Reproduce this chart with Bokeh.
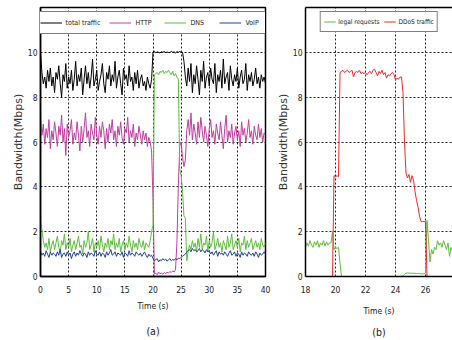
import numpy as np
from bokeh.plotting import figure
from bokeh.layouts import row
from bokeh.models import (FixedTicker, Legend, LegendItem, Title, LinearAxis, Range1d)
from bokeh.embed import file_html
from bokeh.resources import INLINE

# ---------------- data: panel (a), sampled every 0.25 s from 0 to 40 s ----------------
time_a = np.arange(161) * 0.25

total_traffic = [
    10.0, 9.1, 8.6, 8.9, 8.4, 9.2, 8.7, 9.3, 8.5, 8.9,
    8.2, 9.1, 8.8, 9.4, 8.6, 8.0, 9.0, 8.7, 9.5, 8.4,
    8.9, 8.6, 9.2, 8.3, 8.8, 9.6, 8.5, 9.0, 8.7, 9.3,
    8.1, 8.8, 9.4, 8.6, 9.1, 8.4, 8.9, 9.7, 8.5, 8.8,
    9.2, 8.3, 8.7, 9.0, 9.5, 8.6, 8.2, 9.1, 8.8, 9.4,
    8.5, 9.0, 8.7, 9.6, 8.4, 8.9, 9.2, 8.6, 8.1, 9.3,
    8.8, 9.0, 8.5, 9.4, 8.7, 8.9, 8.3, 9.1, 8.6, 9.2,
    8.4, 8.8, 9.0, 8.5, 8.7, 8.3, 8.9, 8.6, 8.4, 8.8,
    10.0, 10.05, 9.98, 10.02, 10.0, 9.97, 10.03, 10.0, 10.04, 9.99,
    10.01, 10.0, 9.98, 10.05, 10.0, 10.02, 9.97, 10.03, 10.0, 10.04,
    10.0, 10.0, 9.6, 8.9, 8.5, 9.3, 8.7, 9.5, 8.2, 9.0,
    8.6, 9.4, 8.8, 8.1, 9.2, 8.7, 9.6, 8.4, 8.9, 9.1,
    8.5, 9.3, 8.8, 8.6, 9.5, 8.2, 9.0, 8.7, 9.2, 8.4,
    9.7, 8.6, 8.9, 9.1, 8.3, 9.4, 8.8, 8.5, 9.0, 8.7,
    9.3, 8.4, 8.9, 9.2, 8.6, 8.8, 9.5, 8.3, 9.0, 8.7,
    9.1, 8.5, 8.8, 9.3, 8.6, 8.9, 8.4, 9.0, 8.7, 8.9,
    8.6,
]

http = [
    7.1, 6.3, 6.8, 5.9, 6.6, 6.2, 7.0, 5.7, 6.5, 6.1,
    6.9, 6.4, 5.8, 6.7, 6.3, 7.2, 6.0, 6.6, 5.4, 6.8,
    6.2, 6.5, 7.0, 5.9, 6.4, 6.1, 6.9, 6.3, 5.6, 6.7,
    6.0, 6.6, 7.3, 6.2, 6.5, 5.8, 6.8, 6.4, 6.1, 7.1,
    6.3, 5.9, 6.7, 6.2, 6.9, 6.5, 5.7, 6.6, 6.0, 6.8,
    6.4, 7.0, 6.1, 6.5, 5.8, 6.7, 6.3, 6.9, 6.2, 5.9,
    6.6, 6.4, 7.1, 6.0, 6.5, 6.2, 6.8, 5.8, 6.4, 6.1,
    6.7, 6.3, 5.9, 6.5, 6.1, 6.4, 5.8, 6.2, 6.0, 5.6,
    3.4, 0.1, 0.15, 0.08, 0.2, 0.12, 0.15, 0.1, 0.18, 0.12,
    0.2, 0.15, 0.22, 0.18, 0.25, 0.2, 0.3, 1.5, 4.0, 5.8,
    6.0, 5.3, 4.9, 5.2, 6.5, 7.0, 6.3, 7.3, 6.1, 6.8,
    6.4, 5.9, 6.9, 6.2, 7.1, 6.5, 6.0, 6.7, 6.3, 5.8,
    6.6, 7.0, 6.2, 6.5, 5.9, 6.8, 6.4, 6.1, 6.9, 6.3,
    5.7, 6.6, 7.2, 6.0, 6.5, 6.2, 6.8, 5.9, 6.4, 6.7,
    6.1, 6.5, 5.8, 6.9, 6.3, 6.6, 6.0, 6.4, 7.0, 6.2,
    6.5, 5.9, 6.7, 6.3, 6.1, 6.8, 6.2, 6.6, 6.0, 6.4,
    6.3,
]

dns = [
    2.5, 2.1, 1.6, 1.3, 1.5, 1.2, 1.7, 1.1, 1.4, 1.6,
    1.2, 1.5, 1.8, 1.3, 1.1, 1.6, 1.4, 1.9, 1.2, 1.5,
    1.3, 1.7, 1.1, 1.4, 1.6, 1.2, 1.5, 1.8, 1.3, 1.4,
    1.0, 1.6, 1.3, 1.5, 2.0, 1.2, 1.4, 1.7, 1.1, 1.5,
    1.3, 1.6, 1.2, 1.8, 1.4, 1.1, 1.5, 1.3, 1.7, 1.2,
    1.6, 1.4, 1.9, 1.2, 1.5, 1.3, 1.7, 1.1, 1.4, 1.6,
    1.2, 1.5, 1.3, 1.8, 1.4, 1.1, 1.6, 1.3, 1.5, 1.2,
    1.7, 1.4, 1.3, 1.6, 1.2, 1.5, 1.4, 1.3, 1.6, 2.0,
    2.3, 9.0, 9.05, 9.1, 9.0, 9.15, 9.1, 9.2, 9.05, 9.15,
    9.1, 9.2, 9.1, 9.0, 9.15, 8.95, 9.05, 8.9, 8.8, 4.8,
    4.5, 3.8, 2.7, 2.6, 0.7, 1.1, 1.4, 1.2, 1.6, 1.3,
    1.5, 1.1, 1.7, 1.3, 1.9, 1.2, 1.5, 1.4, 1.8, 1.1,
    1.6, 1.3, 1.5, 2.0, 1.2, 1.4, 1.7, 1.3, 1.5, 1.1,
    1.6, 1.4, 1.2, 1.8, 1.3, 1.5, 1.9, 1.2, 1.4, 1.6,
    1.3, 1.7, 1.1, 1.5, 1.4, 1.8, 1.2, 1.6, 1.3, 1.5,
    1.7, 1.2, 1.4, 1.6, 1.3, 1.5, 1.2, 1.7, 1.4, 1.3,
    1.5,
]

voip = [
    1.1, 0.95, 1.05, 0.9, 1.15, 1.0, 0.85, 1.1, 0.95, 1.05,
    1.0, 0.9, 1.1, 0.95, 1.2, 0.85, 1.0, 1.05, 0.9, 1.1,
    0.95, 1.05, 0.8, 1.0, 1.1, 0.9, 1.05, 0.95, 1.15, 1.0,
    0.9, 1.05, 1.0, 0.85, 1.1, 0.95, 1.05, 1.0, 0.9, 1.15,
    1.0, 0.95, 1.1, 0.9, 1.05, 1.0, 0.85, 1.1, 0.95, 1.05,
    1.2, 0.95, 1.0, 1.1, 0.9, 1.05, 1.0, 0.95, 1.1, 0.85,
    1.05, 1.0, 0.9, 1.15, 0.95, 1.05, 1.0, 0.9, 1.1, 1.0,
    0.95, 1.05, 0.9, 1.0, 1.1, 0.95, 0.85, 1.0, 0.9, 0.95,
    0.8, 0.7, 0.75, 0.8, 0.65, 0.75, 0.7, 0.8, 0.72, 0.78,
    0.68, 0.75, 0.8, 0.7, 0.76, 0.72, 0.8, 0.74, 0.82, 0.8,
    0.85, 0.9, 0.95, 1.0, 1.1, 1.15, 1.2, 1.1, 1.25, 1.15,
    1.2, 1.1, 1.15, 1.25, 1.1, 1.2, 1.15, 1.05, 1.2, 1.1,
    1.15, 1.0, 1.1, 0.95, 1.05, 1.15, 0.9, 1.1, 1.0, 1.05,
    0.95, 1.1, 1.0, 0.9, 1.05, 1.15, 0.95, 1.0, 1.1, 0.9,
    1.05, 1.0, 0.85, 1.1, 0.95, 1.05, 1.0, 0.9, 1.1, 1.0,
    0.95, 1.05, 0.9, 1.1, 1.0, 0.85, 1.05, 0.95, 1.0, 1.1,
    1.0,
]

# ---------------- data: panel (b), sampled every 0.1 s from 18 to 27.8 s ----------------
time_b = np.round(18 + np.arange(99) * 0.1, 1)

legal_requests = [
    1.3, 1.5, 1.35, 1.6, 1.4, 1.3, 1.55, 1.4, 1.6, 1.3,
    1.5, 1.4, 1.6, 1.35, 1.55, 1.4, 1.5, 1.5, 2.0, 1.2,
    1.3, 1.25, 1.3, 0.6, 0.0, 0.0, 0.0, 0.0, 0.0, 0.0,
    0.0, 0.0, 0.0, 0.0, 0.0, 0.0, 0.0, 0.0, 0.0, 0.0,
    0.0, 0.0, 0.0, 0.0, 0.0, 0.0, 0.0, 0.0, 0.0, 0.0,
    0.0, 0.0, 0.0, 0.0, 0.0, 0.0, 0.0, 0.0, 0.0, 0.0,
    0.0, 0.0, 0.0, 0.0, 0.0, 0.03, 0.1, 0.15, 0.16, 0.15,
    0.15, 0.14, 0.15, 0.14, 0.13, 0.14, 0.13, 0.12, 0.12, 0.12,
    0.15, 2.5, 1.6, 0.65, 1.2, 1.0, 1.3, 1.2, 1.6, 1.4,
    1.5, 1.3, 1.6, 1.4, 1.2, 1.5, 0.9, 1.3, 1.1,
]

ddos_traffic = [
    0.0, 0.0, 0.0, 0.0, 0.0, 0.0, 0.0, 0.0, 0.0, 0.0,
    0.0, 0.0, 0.0, 0.0, 0.0, 0.0, 0.0, 0.0, 0.0, 4.5,
    4.45, 4.5, 4.45, 9.1, 9.15, 9.2, 9.1, 9.15, 9.2, 9.1,
    9.15, 9.2, 8.9, 9.1, 9.15, 9.1, 9.2, 9.05, 9.1, 9.05,
    9.1, 9.0, 9.1, 9.15, 9.05, 9.2, 9.25, 9.1, 8.95, 9.15,
    9.05, 9.2, 9.0, 9.1, 8.85, 9.0, 8.95, 9.05, 9.1, 9.0,
    8.75, 8.85, 8.8, 8.9, 8.9, 8.2, 6.0, 4.6, 4.4, 4.55,
    4.2, 4.5, 4.3, 3.8, 3.4, 3.1, 2.7, 2.45, 2.45, 2.45,
    2.45, 0.0, 0.0, 0.0, 0.0, 0.0, 0.0, 0.0, 0.0, 0.0,
    0.0, 0.0, 0.0, 0.0, 0.0, 0.0, 0.0, 0.0, 0.0,
]

y_ticks = [0, 2, 4, 6, 8, 10]
x_ticks_a = [0, 5, 10, 15, 20, 25, 30, 35, 40]
x_ticks_b = [18, 20, 22, 24, 26]

NARROW = "'DejaVu Sans Condensed', 'Liberation Sans Narrow', 'Liberation Sans', sans-serif"
WIDE = "DejaVu Sans"
TXT = "#222222"
C_TOTAL = "#000000"
C_HTTP = "#BE3FA0"
C_DNS = "#5FBC3C"
C_VOIP = "#24409A"
C_LEGAL = "#5FBC3C"
C_DDOS = "#EE2A2A"


def style(p, xticks):
    p.xaxis.ticker = FixedTicker(ticks=xticks)
    p.yaxis.ticker = FixedTicker(ticks=y_ticks)
    for ax in p.xaxis + p.yaxis:
        ax.major_tick_in = 0
        ax.major_tick_out = 0
        ax.minor_tick_line_color = None
        ax.axis_line_color = "black"
        ax.axis_line_width = 1.5
        ax.major_label_text_font = NARROW
        ax.major_label_text_font_size = "8.5px"
        ax.major_label_text_color = TXT
    p.xaxis.major_label_standoff = 9
    p.yaxis.major_label_standoff = 3
    p.xaxis.axis_label = "Time (s)"
    p.xaxis.axis_label_text_font = NARROW
    p.xaxis.axis_label_text_font_size = "8.5px"
    p.xaxis.axis_label_text_font_style = "normal"
    p.xaxis.axis_label_text_color = TXT
    p.yaxis.axis_label = "Bandwidth(Mbps)"
    p.yaxis.axis_label_text_font = WIDE
    p.yaxis.axis_label_text_font_size = "11px"
    p.yaxis.axis_label_text_font_style = "normal"
    p.yaxis.axis_label_text_color = "#333333"
    p.yaxis.axis_label_standoff = 0
    p.grid.grid_line_color = "black"
    p.grid.grid_line_alpha = 0.85
    p.grid.grid_line_dash = "2 2"
    p.grid.grid_line_width = 1
    p.background_fill_color = "white"
    p.border_fill_color = "white"


# ---------------- panel (a) ----------------
p1 = figure(frame_width=225, frame_height=269, x_range=Range1d(0, 40), y_range=Range1d(0, 12),
            output_backend="svg", toolbar_location=None,
            min_border_left=40, min_border_right=8, min_border_top=7, min_border_bottom=64)
style(p1, x_ticks_a)
p1.outline_line_color = "black"
p1.outline_line_width = 1.5
p1.outline_line_alpha = 1

r_total = p1.line(time_a, total_traffic, line_color=C_TOTAL, line_width=1)
r_http = p1.line(time_a, http, line_color=C_HTTP, line_width=1)
r_dns = p1.line(time_a, dns, line_color=C_DNS, line_width=1)
r_voip = p1.line(time_a, voip, line_color=C_VOIP, line_width=1)

leg1 = Legend(items=[LegendItem(label="total traffic", renderers=[r_total]),
                     LegendItem(label="HTTP", renderers=[r_http]),
                     LegendItem(label="DNS", renderers=[r_dns]),
                     LegendItem(label="VoIP", renderers=[r_voip])],
              orientation="horizontal", location="top_center", margin=4, padding=4, spacing=9,
              glyph_width=22, glyph_height=13, label_height=13, label_width=20, label_standoff=4,
              label_text_font=NARROW, label_text_font_size="7px", label_text_color=TXT,
              border_line_color="black", border_line_width=1, background_fill_alpha=1)
p1.add_layout(leg1)
p1.add_layout(Title(text="(a)", align="center", offset=3, standoff=18, text_font=NARROW,
                    text_font_size="10.5px", text_font_style="normal", text_color=TXT), "below")

# ---------------- panel (b) ----------------
p2 = figure(frame_width=147, frame_height=269, x_range=Range1d(18, 27.8), y_range=Range1d(0, 12),
            output_backend="svg", toolbar_location=None,
            min_border_left=32, min_border_right=0, min_border_top=7, min_border_bottom=64)
style(p2, x_ticks_b)
p2.xaxis.axis_label_standoff = 10
p2.outline_line_color = None
top_axis = LinearAxis(ticker=FixedTicker(ticks=[]), axis_line_color="black", axis_line_width=1.5,
                      major_tick_line_color=None, minor_tick_line_color=None,
                      major_label_standoff=0)
p2.add_layout(top_axis, "above")

r_legal = p2.line(time_b, legal_requests, line_color=C_LEGAL, line_width=1)
r_ddos = p2.line(time_b, ddos_traffic, line_color=C_DDOS, line_width=1)

leg2 = Legend(items=[LegendItem(label="legal requests", renderers=[r_legal]),
                     LegendItem(label="DDoS traffic", renderers=[r_ddos])],
              orientation="horizontal", location="top_center", margin=4, padding=3, spacing=4,
              glyph_width=12, glyph_height=13, label_height=13, label_width=0, label_standoff=3,
              label_text_font=NARROW, label_text_font_size="6.5px", label_text_color=TXT,
              border_line_color="black", border_line_width=1, background_fill_alpha=1)
p2.add_layout(leg2)
p2.add_layout(Title(text="(b)", align="center", standoff=10, text_font=NARROW,
                    text_font_size="10.5px", text_font_style="normal", text_color=TXT), "below")

layout = row(p1, p2)
open("out.html", "w").write(file_html(layout, INLINE))
